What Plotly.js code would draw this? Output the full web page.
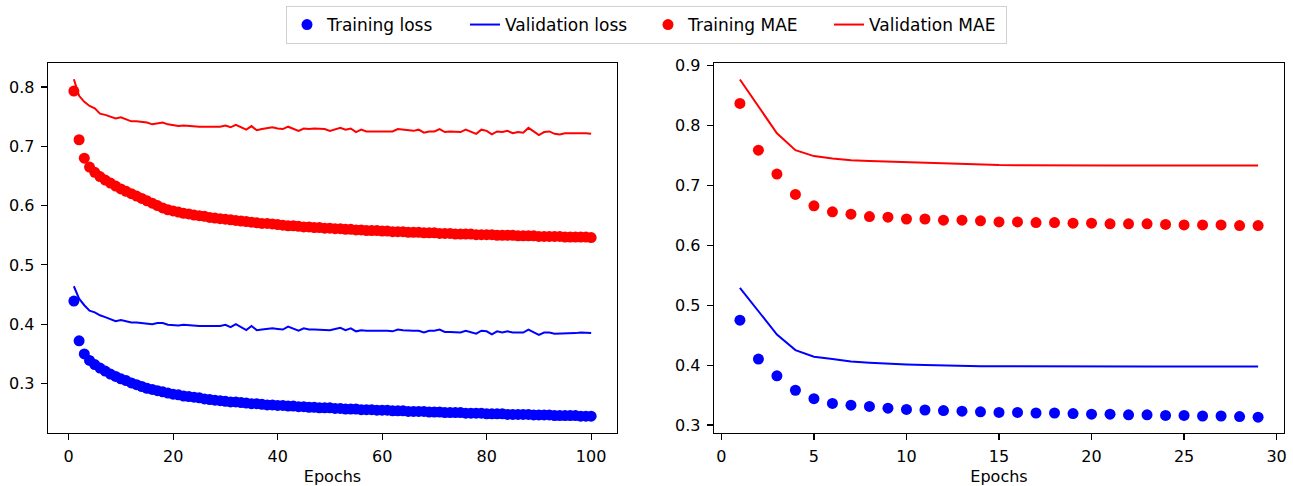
<!DOCTYPE html>
<html>
<head>
<meta charset="utf-8">
<script src="https://cdn.plot.ly/plotly-3.0.1.min.js"></script>
<style>
  html, body { margin: 0; padding: 0; background: #fff; }
  #chart { width: 1293px; height: 486px; }
</style>
</head>
<body>
<div id="chart"></div>
<script>
// ---- Left panel: 100 epochs ----
const epochsA = Array.from({length: 100}, (_, i) => i + 1);

const trainLossA = [
  0.439, 0.372, 0.350, 0.339, 0.332, 0.326, 0.321, 0.316, 0.312, 0.308,
  0.305, 0.301, 0.298, 0.295, 0.292, 0.290, 0.288, 0.286, 0.284, 0.282,
  0.281, 0.279, 0.278, 0.277, 0.276, 0.274, 0.273, 0.272, 0.271, 0.270,
  0.269, 0.269, 0.268, 0.267, 0.266, 0.266, 0.265, 0.264, 0.264, 0.263,
  0.263, 0.262, 0.262, 0.261, 0.261, 0.260, 0.260, 0.259, 0.259, 0.259,
  0.258, 0.258, 0.257, 0.257, 0.257, 0.256, 0.256, 0.256, 0.255, 0.255,
  0.255, 0.254, 0.254, 0.254, 0.253, 0.253, 0.253, 0.253, 0.252, 0.252,
  0.252, 0.251, 0.251, 0.251, 0.251, 0.250, 0.250, 0.250, 0.250, 0.249,
  0.249, 0.249, 0.249, 0.248, 0.248, 0.248, 0.248, 0.248, 0.247, 0.247,
  0.247, 0.247, 0.246, 0.246, 0.246, 0.246, 0.246, 0.245, 0.245, 0.245
];

const valLossA = [
  0.464, 0.443, 0.432, 0.423, 0.420, 0.415, 0.412, 0.409, 0.405, 0.407,
  0.405, 0.403, 0.403, 0.402, 0.402, 0.400, 0.402, 0.402, 0.399, 0.398,
  0.398, 0.399, 0.398, 0.398, 0.397, 0.397, 0.397, 0.397, 0.397, 0.399,
  0.395, 0.400, 0.395, 0.390, 0.397, 0.390, 0.391, 0.392, 0.393, 0.392,
  0.391, 0.396, 0.392, 0.389, 0.393, 0.391, 0.391, 0.391, 0.391, 0.390,
  0.392, 0.394, 0.390, 0.393, 0.388, 0.390, 0.389, 0.389, 0.390, 0.389,
  0.389, 0.388, 0.391, 0.390, 0.389, 0.389, 0.389, 0.386, 0.389, 0.389,
  0.391, 0.387, 0.387, 0.386, 0.386, 0.389, 0.387, 0.384, 0.389, 0.388,
  0.383, 0.388, 0.386, 0.388, 0.386, 0.386, 0.386, 0.391, 0.386, 0.382,
  0.386, 0.386, 0.384, 0.384, 0.384, 0.384, 0.385, 0.386, 0.386, 0.385
];

const trainMaeA = [
  0.793, 0.711, 0.680, 0.665, 0.656, 0.649, 0.643, 0.638, 0.633, 0.628,
  0.624, 0.620, 0.616, 0.612, 0.608, 0.604, 0.600, 0.596, 0.593, 0.591,
  0.589, 0.587, 0.586, 0.584, 0.583, 0.582, 0.580, 0.579, 0.578, 0.577,
  0.576, 0.575, 0.574, 0.573, 0.572, 0.571, 0.570, 0.570, 0.569, 0.568,
  0.567, 0.566, 0.566, 0.565, 0.564, 0.564, 0.563, 0.563, 0.562, 0.562,
  0.561, 0.561, 0.560, 0.560, 0.559, 0.559, 0.558, 0.558, 0.558, 0.557,
  0.557, 0.556, 0.556, 0.556, 0.555, 0.555, 0.555, 0.554, 0.554, 0.554,
  0.553, 0.553, 0.553, 0.552, 0.552, 0.552, 0.552, 0.551, 0.551, 0.551,
  0.551, 0.550, 0.550, 0.550, 0.550, 0.549, 0.549, 0.549, 0.549, 0.548,
  0.548, 0.548, 0.548, 0.548, 0.547, 0.547, 0.547, 0.547, 0.547, 0.546
];

const valMaeA = [
  0.813, 0.785, 0.775, 0.768, 0.764, 0.755, 0.753, 0.750, 0.747, 0.749,
  0.746, 0.742, 0.742, 0.741, 0.740, 0.737, 0.739, 0.740, 0.737, 0.735,
  0.734, 0.735, 0.734, 0.734, 0.733, 0.733, 0.733, 0.733, 0.733, 0.735,
  0.732, 0.736, 0.732, 0.728, 0.734, 0.727, 0.729, 0.730, 0.732, 0.730,
  0.729, 0.733, 0.730, 0.726, 0.730, 0.729, 0.730, 0.729, 0.729, 0.726,
  0.729, 0.731, 0.728, 0.730, 0.724, 0.728, 0.725, 0.725, 0.726, 0.725,
  0.726, 0.725, 0.729, 0.728, 0.726, 0.726, 0.728, 0.723, 0.725, 0.725,
  0.729, 0.724, 0.725, 0.725, 0.724, 0.728, 0.725, 0.721, 0.728, 0.726,
  0.720, 0.725, 0.724, 0.726, 0.722, 0.724, 0.723, 0.731, 0.725, 0.719,
  0.724, 0.725, 0.721, 0.720, 0.722, 0.722, 0.722, 0.723, 0.722, 0.721
];

// ---- Right panel: 29 epochs ----
const epochsB = Array.from({length: 29}, (_, i) => i + 1);

const trainLossB = [
  0.475, 0.410, 0.382, 0.358, 0.344, 0.336, 0.333, 0.331, 0.328, 0.326,
  0.325, 0.324, 0.323, 0.322, 0.321, 0.321, 0.320, 0.320, 0.319, 0.318,
  0.318, 0.317, 0.317, 0.316, 0.316, 0.315, 0.315, 0.314, 0.313
];
const valLossB = [
  0.529, 0.489, 0.451, 0.425, 0.414, 0.410, 0.406, 0.404, 0.402, 0.401,
  0.400, 0.399, 0.3985, 0.398, 0.398, 0.3978, 0.3977, 0.3976, 0.3975, 0.3975,
  0.3975, 0.3975, 0.3976, 0.3976, 0.3977, 0.3977, 0.3977, 0.3977, 0.3977
];
const trainMaeB = [
  0.837, 0.759, 0.719, 0.685, 0.666, 0.656, 0.652, 0.648, 0.647, 0.644,
  0.644, 0.642, 0.642, 0.641, 0.639, 0.639, 0.638, 0.638, 0.637, 0.637,
  0.636, 0.636, 0.636, 0.635, 0.634, 0.634, 0.634, 0.633, 0.633
];
const valMaeB = [
  0.877, 0.831, 0.787, 0.759, 0.749, 0.745, 0.742, 0.741, 0.740, 0.738,
  0.737, 0.736, 0.7355, 0.7345, 0.734, 0.7338, 0.7335, 0.7333, 0.7332, 0.7332,
  0.7332, 0.7333, 0.7333, 0.7334, 0.7334, 0.7334, 0.7335, 0.7335, 0.7335
];

const seriesNames = ['Training loss', 'Validation loss', 'Training MAE', 'Validation MAE'];
const xTicksA = [0, 20, 40, 60, 80, 100];
const xTicksB = [0, 5, 10, 15, 20, 25, 30];

const BLUE = '#0000ff', RED = '#ff0000';
const MS = 11, LW = 2;
const LEG_W = [133, 138, 136, 132];

function dots(x, y, name, color, xa, ya, show, lw) {
  return {x, y, name, type: 'scatter', mode: 'markers', xaxis: xa, yaxis: ya,
    marker: {color, size: MS, line: {width: 0}}, showlegend: show, legendgroup: name,
    legendwidth: lw};
}
function line(x, y, name, color, xa, ya, show, lw) {
  return {x, y, name, type: 'scatter', mode: 'lines', xaxis: xa, yaxis: ya,
    line: {color, width: LW}, showlegend: show, legendgroup: name, legendwidth: lw};
}

const data = [
  dots(epochsA, trainLossA, seriesNames[0], BLUE, 'x', 'y', true, LEG_W[0]),
  line(epochsA, valLossA, seriesNames[1], BLUE, 'x', 'y', true, LEG_W[1]),
  dots(epochsA, trainMaeA, seriesNames[2], RED, 'x', 'y', true, LEG_W[2]),
  line(epochsA, valMaeA, seriesNames[3], RED, 'x', 'y', true, LEG_W[3]),
  dots(epochsB, trainLossB, seriesNames[0], BLUE, 'x2', 'y2', false),
  line(epochsB, valLossB, seriesNames[1], BLUE, 'x2', 'y2', false),
  dots(epochsB, trainMaeB, seriesNames[2], RED, 'x2', 'y2', false),
  line(epochsB, valMaeB, seriesNames[3], RED, 'x2', 'y2', false)
];

const FONT = 'DejaVu Sans, sans-serif';
const axisBase = {
  showline: true, mirror: true, linecolor: '#000', linewidth: 1.3,
  ticks: 'outside', ticklen: 6, tickwidth: 1.2, tickcolor: '#000',
  showgrid: false, zeroline: false, automargin: false,
  tickfont: {family: FONT, size: 16, color: '#000'}
};

const W = 1293, H = 486;
const yDom = [(H - 433) / H, (H - 63) / H];
const titleFont = {family: FONT, size: 16, color: '#000'};

const layout = {
  width: W, height: H,
  margin: {l: 0, r: 0, t: 0, b: 0},
  paper_bgcolor: '#fff', plot_bgcolor: '#fff',
  font: {family: FONT, size: 16, color: '#000'},
  showlegend: true,
  legend: {
    orientation: 'h', x: 0.5, xanchor: 'center', y: (H - 25) / H, yanchor: 'middle',
    bordercolor: '#d0d0d0', borderwidth: 1, bgcolor: '#fff',
    font: {family: FONT, size: 17, color: '#000'},
    traceorder: 'normal', itemwidth: 30
  },
  xaxis: Object.assign({}, axisBase, {
    domain: [48 / W, 617 / W], range: [-3.95, 104.95],
    tickvals: xTicksA, ticktext: xTicksA.map(String), ticklabelstandoff: 2,
    title: {text: 'Epochs', font: titleFont, standoff: 15}
  }),
  yaxis: Object.assign({}, axisBase, {
    domain: yDom, range: [0.2166, 0.8404], dtick: 0.1, tick0: 0, tickformat: '.1f',
    ticklabelstandoff: 3
  }),
  xaxis2: Object.assign({}, axisBase, {
    domain: [714 / W, 1284 / W], range: [-0.4, 30.4], anchor: 'y2',
    tickvals: xTicksB, ticktext: xTicksB.map(String), ticklabelstandoff: 2,
    title: {text: 'Epochs', font: titleFont, standoff: 15}
  }),
  yaxis2: Object.assign({}, axisBase, {
    domain: yDom, range: [0.2866, 0.9045], dtick: 0.1, tick0: 0, tickformat: '.1f', anchor: 'x2',
    ticklabelstandoff: 3
  })
};

Plotly.newPlot('chart', data, layout, {staticPlot: true, displayModeBar: false});
</script>
</body>
</html>
